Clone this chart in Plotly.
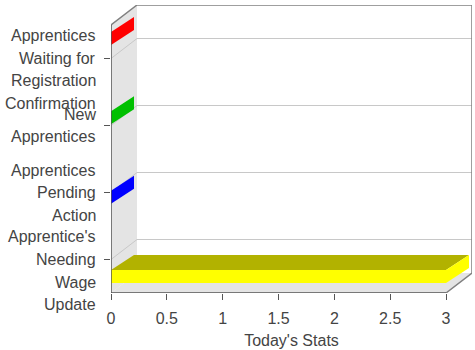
import plotly.graph_objects as go

# ---- data ----
categories = [
    "Apprentices Waiting for Registration Confirmation",
    "New Apprentices",
    "Apprentices Pending Action",
    "Apprentice's Needing Wage Update",
]
label_lines = [
    ["Apprentices", "Waiting for", "Registration", "Confirmation"],
    ["New", "Apprentices"],
    ["Apprentices", "Pending", "Action"],
    ["Apprentice's", "Needing", "Wage", "Update"],
]
values = [0, 0, 0, 3]
colors = ["#FF0000", "#00C000", "#0000FF", "#FFFF00"]
top_colors = ["#B20000", "#008600", "#0000B2", "#B2B200"]
x_ticks = [0, 0.5, 1, 1.5, 2, 2.5, 3]
x_tick_labels = ["0", "0.5", "1", "1.5", "2", "2.5", "3"]
x_title = "Today's Stats"

# ---- layout constants (pixels) ----
W, H = 475, 350
L, R, T, B = 111, 3, 5, 57
XMAX = 3
PX_X = 335 / 3          # px per x unit
PX_Y = 67               # px per category
WALL_DX, WALL_DY = 26, 20
BAR_DX, BAR_DY, BAR_H = 23, 15, 13
BAR_STEP = 79.33        # px between bar fronts
BAR_FIRST = -20         # px of first bar front centre relative to first tick
LINE_SP = 22.5

n = len(categories)
wdx = WALL_DX / PX_X
wdy = WALL_DY / PX_Y
bdx = BAR_DX / PX_X
bdy = BAR_DY / PX_Y
bh = BAR_H / PX_Y
y_lo, y_hi = -0.5, n - 0.5
yr = [y_hi, y_lo - wdy]
xr = [0, XMAX + wdx]
plot_w = W - L - R
plot_h = H - T - B

cat_pos = list(range(n))
bar_pos = [(BAR_FIRST + BAR_STEP * i) / PX_Y for i in cat_pos]

fig = go.Figure()

# front faces
fig.add_trace(go.Bar(
    x=values, y=bar_pos, base=0, orientation="h", width=bh,
    marker=dict(color=colors, line=dict(width=0)),
    showlegend=False, hoverinfo="skip",
))

# top faces and end faces
for v, yc, c, tc in zip(values, bar_pos, colors, top_colors):
    yt, yb = yc - bh / 2, yc + bh / 2
    if v > 0:
        fig.add_trace(go.Scatter(
            x=[0, v, v + bdx, bdx, 0], y=[yt, yt, yt - bdy, yt - bdy, yt],
            fill="toself", fillcolor=tc, mode="none",
            showlegend=False, hoverinfo="skip"))
    fig.add_trace(go.Scatter(
        x=[v, v + bdx, v + bdx, v, v], y=[yt, yt - bdy, yb - bdy, yb, yt],
        fill="toself", fillcolor=c, mode="none",
        showlegend=False, hoverinfo="skip"))

shapes = []
wall = "#E4E4E4"
# left wall
shapes.append(dict(type="path", layer="below", line=dict(width=0), fillcolor=wall,
                   path=f"M0,{y_lo} L0,{y_hi} L{wdx},{y_hi-wdy} L{wdx},{y_lo-wdy} Z",
                   xref="x", yref="y"))
# floor
shapes.append(dict(type="path", layer="below", line=dict(width=0), fillcolor=wall,
                   path=f"M0,{y_hi} L{XMAX},{y_hi} L{XMAX+wdx},{y_hi-wdy} L{wdx},{y_hi-wdy} Z",
                   xref="x", yref="y"))
# grid lines
for p in cat_pos:
    shapes.append(dict(type="path", layer="below", line=dict(color="#C8C8C8", width=1),
                       path=f"M0,{p} L{wdx},{p-wdy} L{XMAX+wdx},{p-wdy}",
                       xref="x", yref="y"))
# outline
shapes.append(dict(type="path", layer="above", line=dict(color="#808080", width=1.5),
                   path=(f"M0,{y_lo} L{wdx},{y_lo-wdy} L{XMAX+wdx},{y_lo-wdy} "
                         f"L{XMAX+wdx},{y_hi-wdy} L{XMAX},{y_hi}"),
                   xref="x", yref="y"))
# axis lines
shapes.append(dict(type="line", layer="above", line=dict(color="#555555", width=1.5),
                   x0=0, x1=XMAX, y0=y_hi, y1=y_hi, xref="x", yref="y"))
shapes.append(dict(type="line", layer="above", line=dict(color="#555555", width=1.5),
                   x0=0, x1=0, y0=y_lo, y1=y_hi, xref="x", yref="y"))

# category labels (paper coords so lines below the axis stay visible)
def y_to_paper(yv):
    pix = (yv - yr[1]) * PX_Y          # px from top of plot area
    return 1 - pix / plot_h

annotations = []
for p, lines in zip(cat_pos, label_lines):
    c = (min(len(lines), 3) - 1) / 2
    for j, txt in enumerate(lines):
        annotations.append(dict(
            text=txt, xref="paper", yref="paper", x=-13 / plot_w,
            y=y_to_paper(p + (j - c) * LINE_SP / PX_Y),
            xanchor="right", yanchor="middle",
            showarrow=False, font=dict(size=16, color="#444444")))

fig.update_layout(
    width=W, height=H, margin=dict(l=L, r=R, t=T, b=B, pad=0),
    paper_bgcolor="white", plot_bgcolor="white",
    font=dict(family="Liberation Sans, Arial, sans-serif", color="#444444"),
    shapes=shapes, annotations=annotations, bargap=0,
    xaxis=dict(range=xr, tickvals=x_ticks, ticktext=x_tick_labels,
               ticks="outside", ticklen=6, tickcolor="#555555",
               ticklabelstandoff=5,
               tickfont=dict(size=16, color="#444444"),
               showgrid=False, zeroline=False, showline=False, fixedrange=True,
               title=dict(text=x_title, font=dict(size=16, color="#444444"), standoff=8)),
    yaxis=dict(range=yr, tickvals=cat_pos, ticktext=[""] * n,
               ticks="outside", ticklen=6, tickcolor="#555555",
               showticklabels=False, showgrid=False, zeroline=False,
               showline=False, fixedrange=True),
)

fig.write_html("out.html")
